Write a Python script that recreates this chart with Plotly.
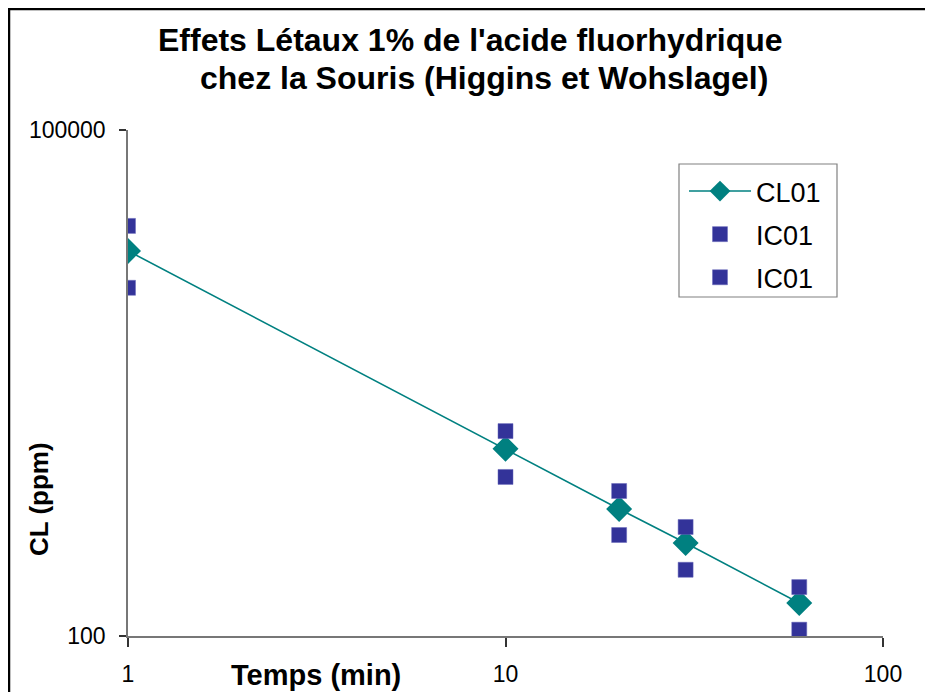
import plotly.graph_objects as go

# Data
temps = [1, 10, 20, 30, 60]
cl01 = [19200, 1290, 566, 356, 157]
ic01_high = [27000, 1640, 724, 443, 195]
ic01_low = [11600, 877, 397, 247, 109]

title_line1 = "Effets Létaux 1% de l'acide fluorhydrique"
title_line2 = "chez la Souris (Higgins et Wohslagel)"
x_title = "Temps (min)"
y_title = "CL (ppm)"
x_ticks = [1, 10, 100]
y_ticks = [100, 100000]

FONT = "Liberation Sans, Arial, sans-serif"

fig = go.Figure()
fig.add_trace(go.Scatter(
    x=temps, y=cl01, name="CL01", mode="lines+markers",
    line=dict(color="#008080", width=1.6),
    marker=dict(symbol="diamond", size=20, color="#008080"),
    legendgroup="a",
))
fig.add_trace(go.Scatter(
    x=temps, y=ic01_high, name="IC01", mode="markers",
    marker=dict(symbol="square", size=15, color="#333399",
                line=dict(color="#6666bb", width=0.5)),
    legendgroup="b",
))
fig.add_trace(go.Scatter(
    x=temps, y=ic01_low, name="IC01", mode="markers",
    marker=dict(symbol="square", size=15, color="#333399",
                line=dict(color="#6666bb", width=0.5)),
    legendgroup="c",
))

# page offset (body margin) -> work in reference pixel coordinates
OX, OY = 8, 8
W, H = 933 - OX, 692 - OY
L = 128 - OX
T = 130 - OY
R = W - (883 - OX)
B = H - (636 - OY)
pw, ph = W - L - R, H - T - B

def px(xref_pix):
    return (xref_pix - OX - L) / pw

def py(yref_pix):
    return (H - B - (yref_pix - OY)) / ph

fig.update_layout(
    width=W, height=H,
    margin=dict(l=L, r=R, t=T, b=B, autoexpand=False),
    paper_bgcolor="white", plot_bgcolor="white",
    font=dict(family=FONT, color="black", size=22),
    showlegend=True,
    legend=dict(
        x=px(684), y=py(167), xanchor="left", yanchor="top",
        borderwidth=0, bgcolor="rgba(0,0,0,0)",
        font=dict(size=27, family=FONT),
        traceorder="grouped", tracegroupgap=5, itemwidth=62,
    ),
    xaxis=dict(
        type="log", range=[0, 2], tickvals=x_ticks, ticktext=[str(v) for v in x_ticks],
        showgrid=False, zeroline=False, showline=True, linecolor="#777777", linewidth=1.5,
        ticks="outside", ticklen=9, tickcolor="#333333", tickwidth=1.5,
        tickfont=dict(size=23, family=FONT), ticklabelstandoff=8, automargin=False,
    ),
    yaxis=dict(
        type="log", range=[2, 5], tickvals=y_ticks, ticktext=[str(v) for v in y_ticks],
        showgrid=False, zeroline=False, showline=True, linecolor="#777777", linewidth=1.5,
        ticks="outside", ticklen=7, tickcolor="#333333", tickwidth=1.5,
        tickfont=dict(size=23, family=FONT), ticklabelstandoff=9, automargin=False,
    ),
)

fig.add_annotation(text="<b>" + title_line1 + "</b>", xref="paper", yref="paper",
                   x=px(470), y=py(40), showarrow=False, xanchor="center", yanchor="middle",
                   font=dict(size=32, family=FONT))
fig.add_annotation(text="<b>" + title_line2 + "</b>", xref="paper", yref="paper",
                   x=px(484), y=py(78), showarrow=False, xanchor="center", yanchor="middle",
                   font=dict(size=32, family=FONT))
fig.add_annotation(text="<b>" + x_title + "</b>", xref="paper", yref="paper",
                   x=px(316), y=py(675), showarrow=False, xanchor="center", yanchor="middle",
                   font=dict(size=29, family=FONT))
fig.add_annotation(text="<b>" + y_title + "</b>", xref="paper", yref="paper",
                   x=px(39), y=py(499), showarrow=False, xanchor="center", yanchor="middle",
                   textangle=-90, font=dict(size=26, family=FONT))

# legend frame
fig.add_shape(type="rect", xref="paper", yref="paper",
              x0=px(679), y0=py(297), x1=px(837), y1=py(164),
              line=dict(color="#808080", width=1.2), fillcolor="white", layer="below")

# outer chart-area border
fig.add_shape(type="rect", xref="paper", yref="paper",
              x0=px(9), y0=py(720), x1=px(960), y1=py(9),
              line=dict(color="black", width=2.5), layer="below")

fig.write_html("out.html")
